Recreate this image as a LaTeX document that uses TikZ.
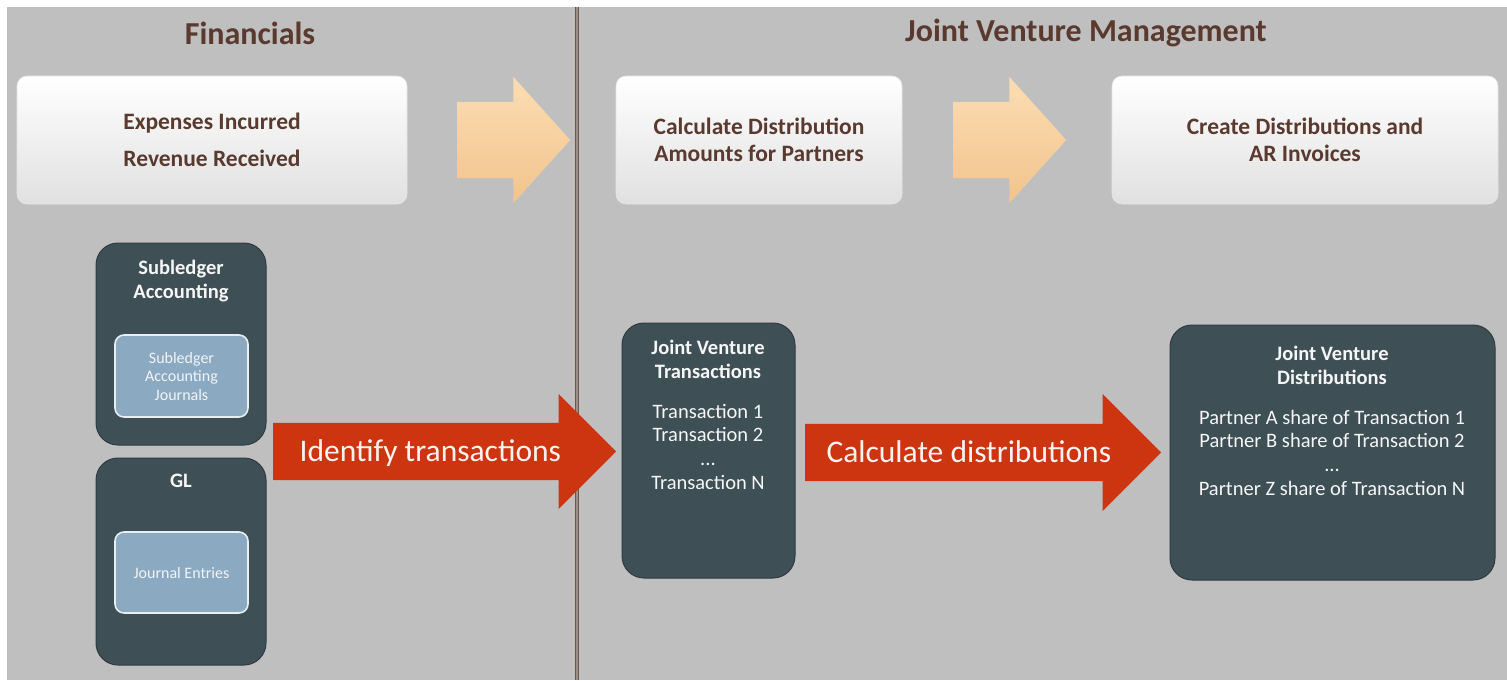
\documentclass[tikz,border=0pt]{standalone}
\usepackage{fontspec}
\setmainfont{Carlito}
\usetikzlibrary{shapes.arrows}
\usetikzlibrary{positioning}
\definecolor{bggray}{HTML}{BFBFBF}
\definecolor{slate}{HTML}{3F4F56}
\definecolor{paleblue}{HTML}{8BA9C0}
\definecolor{flame}{HTML}{CD3410}
\definecolor{peachlight}{HTML}{FBDDB3}
\definecolor{peachdark}{HTML}{F2C48C}
\definecolor{cocoa}{HTML}{5A3A2E}
\definecolor{divider}{HTML}{6E5648}
\tikzstyle{header}=[text=cocoa, font={\bfseries\fontsize{32}{36}\selectfont}]
\tikzstyle{stepcard}=[rounded corners=10pt, top color=white, middle color=white, bottom color=black!12, draw=black!10, line width=.6pt, inner sep=0, align=center, text=cocoa, font={\bfseries\fontsize{23.5}{27}\selectfont}]
\tikzstyle{ledgerbox}=[rounded corners=22pt, fill=slate, draw=slate!75!black, line width=1pt, inner sep=0]
\tikzstyle{journalbox}=[rounded corners=9pt, fill=paleblue, draw=white!80!paleblue, line width=1.6pt, inner sep=0, align=center, text=white!88!paleblue, font={\fontsize{16}{18.5}\selectfont}]
\tikzstyle{boxtext}=[align=center, text=white!95!slate, inner sep=0, font={\fontsize{20.5}{23.8}\selectfont}]
\tikzstyle{steparrow}=[single arrow, single arrow tip angle=96, single arrow head extend=25pt, top color=peachlight, bottom color=peachdark, inner xsep=0, inner ysep=38pt, minimum height=113pt, anchor=tail]
\tikzstyle{bigarrow}=[single arrow, single arrow tip angle=90, fill=flame, text=white!94!flame, inner xsep=0, inner ysep=14pt, text height=24pt, text depth=5pt, font={\fontsize{31.5}{34}\selectfont}, anchor=tail]

\begin{document}
\begin{tikzpicture}[x=1pt, y=-1pt]

    \useasboundingbox (0, 0) rectangle (1507, 680);
    \fill[bggray] (7, 7) rectangle (1507, 680);
    \draw[divider, line width=1.2pt, double=divider!45!bggray, double distance=1.4pt] (577, 7) -- (577, 680);

    \node[header] (financials) at (250, 33) {Financials};
    \node[header] (jvm) at (1086, 33) {Joint Venture Management};

    % process steps
    \node[stepcard, minimum width=390pt, minimum height=128pt, font={\bfseries\fontsize{23.5}{37}\selectfont}] (incurred) at (212, 140) {Expenses Incurred\\Revenue Received};
    \node[stepcard, minimum width=286pt, minimum height=128pt] (calculate) at (759, 140) {Calculate Distribution\\Amounts for Partners};
    \node[stepcard, minimum width=386pt, minimum height=128pt] (create) at (1305, 140) {Create Distributions and\\AR Invoices};

    \node[steparrow] (next1) at (457, 140) {};
    \node[steparrow] (next2) at (953, 140) {};

    % sources in financials
    \node[ledgerbox, minimum width=170pt, minimum height=202pt] (sla) at (181, 344) {};
    \node[boxtext, anchor=north, font={\bfseries\fontsize{20.5}{24}\selectfont}] (slatitle) at (181, 260) {Subledger\\Accounting};
    \node[journalbox, minimum width=133pt, minimum height=82pt] (slajournals) at (181.5, 376) {Subledger\\Accounting\\Journals};

    \node[ledgerbox, minimum width=170pt, minimum height=207pt] (gl) at (181, 561.5) {};
    \node[boxtext, anchor=north, font={\bfseries\fontsize{20.5}{24}\selectfont}] (gltitle) at (181, 474) {GL};
    \node[journalbox, minimum width=133pt, minimum height=81pt] (entries) at (181.5, 572.5) {Journal Entries};

    % joint venture results
    \node[ledgerbox, minimum width=173pt, minimum height=255pt] (jvtrans) at (708.5, 450.5) {};
    \node[boxtext, anchor=north] (jvtranstext) at (708, 340) {\textbf{Joint Venture}\\\textbf{Transactions}\\[16pt]Transaction 1\\Transaction 2\\...\\Transaction N};

    \node[ledgerbox, minimum width=325pt, minimum height=255pt] (jvdist) at (1332.5, 452.5) {};
    \node[boxtext, anchor=north] (jvdisttext) at (1332, 346) {\textbf{Joint Venture}\\\textbf{Distributions}\\[16pt]Partner A share of Transaction 1\\Partner B share of Transaction 2\\...\\Partner Z share of Transaction N};

    \node[bigarrow, minimum height=343pt, single arrow head extend=29pt] (identify) at (273, 451.5) {Identify transactions};
    \node[bigarrow, minimum height=356pt, single arrow head extend=30pt] (distribute) at (805, 452.5) {Calculate distributions};

\end{tikzpicture}
\end{document}
